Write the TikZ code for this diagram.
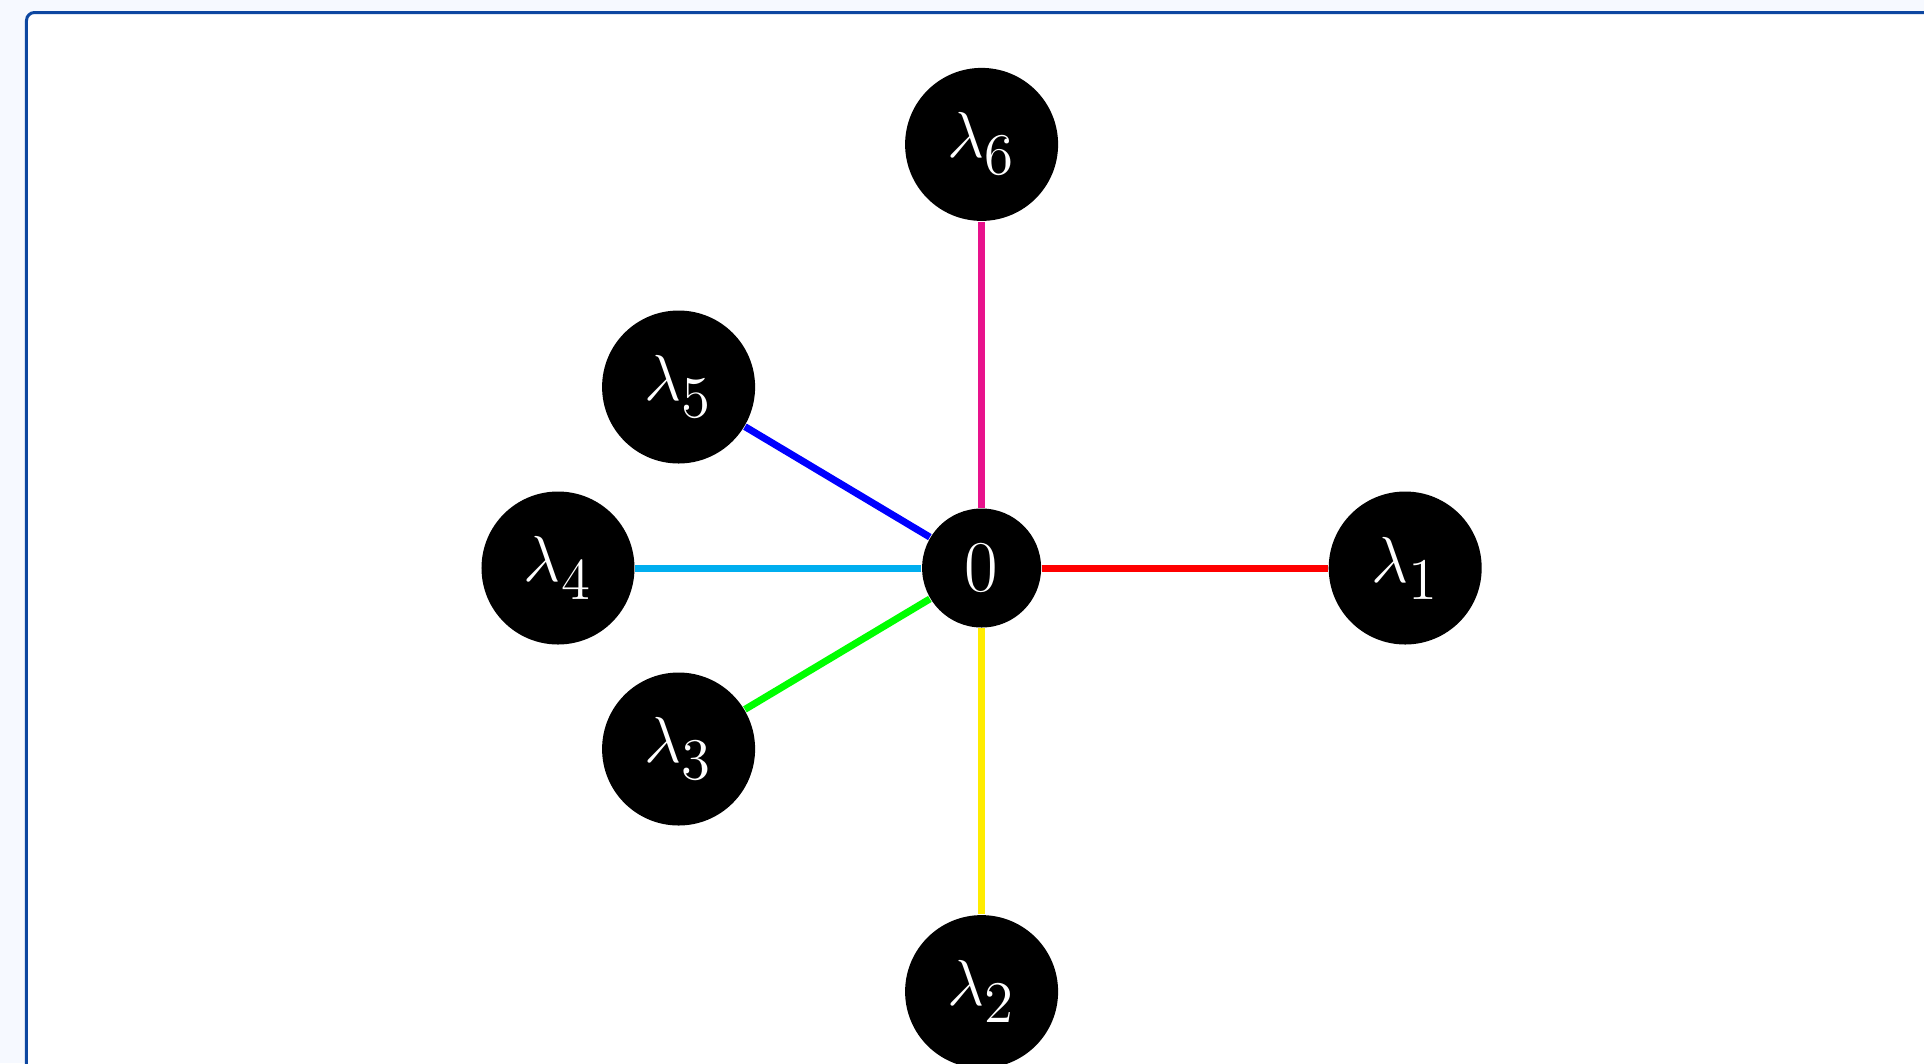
\RequirePackage{fix-cm}
\documentclass[tikz,border=0pt]{standalone}
\usetikzlibrary{positioning}

\definecolor{framebl}{RGB}{13,71,161}
\definecolor{pagebg}{RGB}{246,249,255}
\definecolor{edgemag}{RGB}{232,18,140}
\definecolor{edgecyan}{RGB}{0,174,239}
\definecolor{edgeyel}{RGB}{255,236,0}
\definecolor{edgegrn}{RGB}{0,255,0}

\newcommand{\lab}[1]{$\lambda_{\mbox{\fontsize{14.75}{15}\selectfont #1}}$}

\begin{document}
\begin{tikzpicture}[x=0.25pt, y=0.25pt, node distance=105.9pt,
    lam/.style={circle, fill=black, text=white, inner sep=0pt, minimum size=38.25pt, font=\fontsize{16.25}{18}\selectfont},
    zero/.style={circle, fill=black, text=white, inner sep=0pt, minimum size=29.75pt, font=\fontsize{18.25}{20}\selectfont},
    spoke/.style={line width=1.75pt}]

                  % page and frame
                  \useasboundingbox (-981.6,-495) rectangle (942.4,568);
                  \fill[pagebg] (-981.6,-495) rectangle (942.4,568);
                  \draw[framebl, fill=white, line width=0.75pt, rounded corners=2pt] (-955.1,-540) rectangle (990,555.5);

                  \node[zero] (n0) at (0,0) {0};
                  \node[lam, right of=n0] (n1) {\lab{1}};
                  \node[lam, below of=n0] (n2) {\lab{2}};
                  \node[lam] (n3) at (-303,-181) {\lab{3}};
                  \node[lam, left of=n0] (n4) {\lab{4}};
                  \node[lam] (n5) at (-303,181) {\lab{5}};
                  \node[lam, above of=n0] (n6) {\lab{6}};

                  \draw[spoke, red] (n0) -- (n1);
                  \draw[spoke, edgeyel] (n0) -- (n2);
                  \draw[spoke, edgegrn] (n0) -- (n3);
                  \draw[spoke, edgecyan] (n0) -- (n4);
                  \draw[spoke, blue] (n0) -- (n5);
                  \draw[spoke, edgemag] (n0) -- (n6);

            \end{tikzpicture}
\end{document}
